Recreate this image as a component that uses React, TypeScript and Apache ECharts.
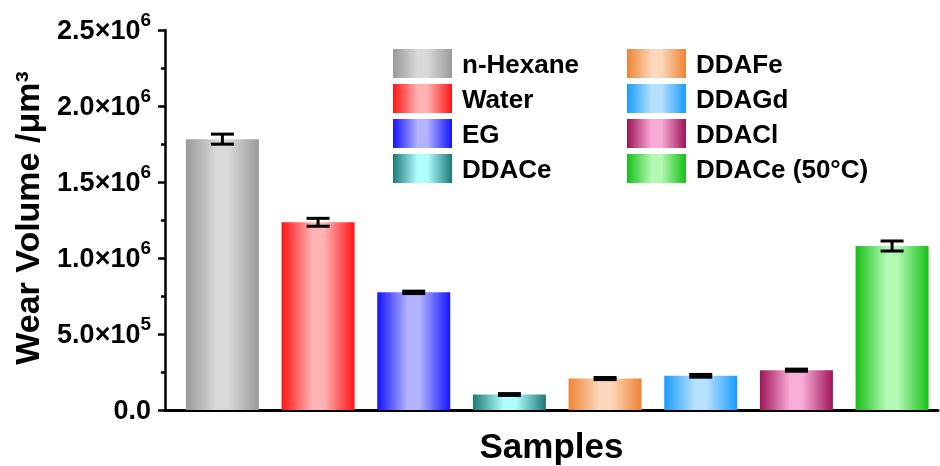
import React, { useEffect, useRef } from "react";
import * as echarts from "echarts";

const categories = ["n-Hexane", "Water", "EG", "DDACe", "DDAFe", "DDAGd", "DDACl", "DDACe (50°C)"];
const positions = [1, 2, 3, 4, 5, 6, 7, 8];
const wearVolume = [1782000, 1235000, 774000, 102000, 207000, 225000, 262000, 1079000];
const wearError = [33000, 26000, 8000, 6000, 7000, 9000, 7000, 33000];
const edgeColors = ["#999999", "#ff1414", "#1414ff", "#1e7878", "#ee8433", "#1a9bff", "#9e1458", "#16bf16"];
const centerColors = ["#d9d9d9", "#ffb3b3", "#b3b3ff", "#b0ffff", "#fbd7bb", "#b6e0ff", "#f9acd8", "#b3f9b3"];
const legendColumn1 = ["n-Hexane", "Water", "EG", "DDACe"];
const legendColumn2 = ["DDAFe", "DDAGd", "DDACl", "DDACe (50°C)"];
const yTicks = [0, 500000, 1000000, 1500000, 2000000, 2500000];

const FONT = 'Arial, "Liberation Sans", sans-serif';

function grad(edge: string, center: string) {
  return new echarts.graphic.LinearGradient(0, 0, 1, 0, [
    { offset: 0, color: edge },
    { offset: 0.42, color: center },
    { offset: 0.58, color: center },
    { offset: 1, color: edge },
  ]);
}

function fmtTick(v: number) {
  if (v === 0) return "{m|0.0}";
  const exp = Math.floor(Math.log10(v));
  const man = (v / Math.pow(10, exp)).toFixed(1);
  return `{m|${man}×10}{e|${exp}}`;
}

export default function App() {
  const ref = useRef<HTMLDivElement>(null);
  useEffect(() => {
    if (!ref.current) return;
    const chart = echarts.init(ref.current, null, { renderer: "svg" });
    const barSeries = categories.map((name, i) => ({
      name,
      type: "bar",
      barWidth: 73,
      barGap: "-100%",
      data: [[positions[i], wearVolume[i]]],
      itemStyle: { color: grad(edgeColors[i], centerColors[i]) },
      z: 2,
    }));
    const errSeries = {
      name: "err",
      type: "custom",
      z: 5,
      encode: { x: 0, y: 1 },
      data: positions.map((p, i) => [p, wearVolume[i], wearError[i]]),
      renderItem: (params: any, api: any) => {
        const x = api.value(0);
        const v = api.value(1);
        const e = api.value(2);
        const top = api.coord([x, v + e]);
        const bot = api.coord([x, v - e]);
        const hw = 11.5;
        const st = { stroke: "#000", lineWidth: 3 };
        return {
          type: "group",
          children: [
            { type: "line", shape: { x1: top[0], y1: top[1], x2: bot[0], y2: bot[1] }, style: st },
            { type: "line", shape: { x1: top[0] - hw, y1: top[1], x2: top[0] + hw, y2: top[1] }, style: st },
            { type: "line", shape: { x1: bot[0] - hw, y1: bot[1], x2: bot[0] + hw, y2: bot[1] }, style: st },
          ],
        };
      },
    };
    const legendBase = {
      orient: "vertical",
      icon: "rect",
      itemWidth: 59,
      itemHeight: 29,
      itemGap: 6,
      padding: 0,
      selectedMode: false,
      textStyle: { fontFamily: FONT, fontSize: 26, fontWeight: "bold", color: "#000", lineHeight: 29, padding: [0, 0, 0, 5] },
    };
    chart.setOption({
      animation: false,
      grid: { left: 165, right: 2, top: 30, bottom: 56, outerBoundsMode: "none", containLabel: false },
      legend: [
        { ...legendBase, left: 393, top: 49, data: legendColumn1 },
        { ...legendBase, left: 627, top: 49, data: legendColumn2 },
      ],
      xAxis: {
        type: "value",
        min: 0.4,
        max: 8.48,
        name: "Samples",
        nameLocation: "middle",
        nameGap: 18,
        nameTextStyle: { fontFamily: FONT, fontSize: 35, fontWeight: "bold", color: "#000" },
        axisLine: { show: true, onZero: false, lineStyle: { color: "#000", width: 3 } },
        axisTick: { show: false },
        axisLabel: { show: false },
        splitLine: { show: false },
      },
      yAxis: {
        type: "value",
        min: yTicks[0],
        max: yTicks[yTicks.length - 1],
        interval: 500000,
        axisLine: { show: true, lineStyle: { color: "#000", width: 2.5 } },
        axisTick: { show: true, inside: false, length: 7, lineStyle: { color: "#000", width: 2.5 } },
        minorTick: { show: true, splitNumber: 2, length: 4, lineStyle: { color: "#000", width: 2.5 } },
        splitLine: { show: false },
        axisLabel: {
          margin: 14,
          formatter: (v: number) => fmtTick(v),
          rich: {
            m: { fontFamily: FONT, fontSize: 27, fontWeight: "bold", color: "#000", lineHeight: 40, verticalAlign: "middle" },
            e: { fontFamily: FONT, fontSize: 19, fontWeight: "bold", color: "#000", lineHeight: 20, verticalAlign: "top" },
          },
        },
      },
      graphic: [
        {
          type: "text",
          x: 27,
          y: 218,
          rotation: Math.PI / 2,
          style: {
            text: "Wear Volume /μm³",
            fontFamily: FONT,
            fontSize: 34,
            fontWeight: "bold",
            fill: "#000",
            align: "center",
            verticalAlign: "middle",
          },
        },
      ],
      series: [...barSeries, errSeries],
    });
    return () => chart.dispose();
  }, []);
  return <div ref={ref} style={{ position: "fixed", left: 0, top: 0, width: 940, height: 466 }} />;
}
